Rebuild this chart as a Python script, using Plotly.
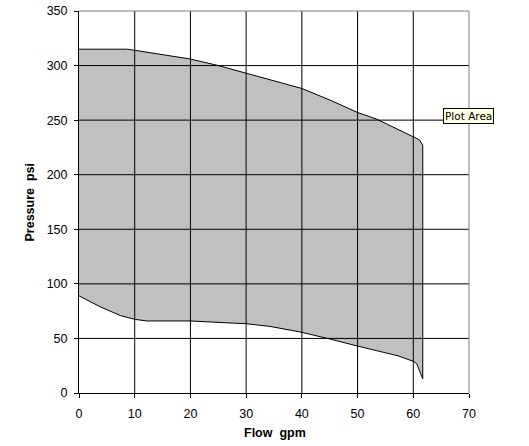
import plotly.graph_objects as go

# Upper boundary of the operating envelope (flow gpm, pressure psi)
flow_upper = [0, 8.7, 10, 20, 25, 30, 34.3, 40, 45, 50, 53.4, 60, 61.1, 61.7]
press_upper = [315, 315, 314, 306, 300, 293, 287, 279, 268.5, 257, 251, 235, 232, 227]

# Lower boundary
flow_lower = [0, 3.8, 7.4, 10, 12.2, 20, 23, 27.7, 30, 34.3, 40, 45, 50, 53.4, 57.3, 60, 60.6, 61.7]
press_lower = [89, 79, 71, 67.5, 66, 66, 65, 64, 63.5, 61, 55.6, 49.5, 43, 38.5, 34, 29, 27, 13]

x_ticks = [0, 10, 20, 30, 40, 50, 60, 70]
y_ticks = [0, 50, 100, 150, 200, 250, 300, 350]

FONT = 'Liberation Sans, Arial, sans-serif'

# closed polygon: upper left->right, lower right->left
poly_x = flow_upper + flow_lower[::-1]
poly_y = press_upper + press_lower[::-1]

fig = go.Figure()
fig.add_trace(go.Scatter(
    x=poly_x, y=poly_y,
    mode='lines', fill='toself',
    fillcolor='#C0C0C0',
    line=dict(color='black', width=1),
    hoverinfo='skip', showlegend=False,
))

axis_common = dict(
    showgrid=False, automargin=False,
    showline=True, linecolor='black', linewidth=1,
    ticks='outside', ticklen=4, tickcolor='black',
    zeroline=False, layer='above traces',
    tickfont=dict(family=FONT, size=12.5, color='black'),
)

fig.update_layout(
    width=529, height=446,
    margin=dict(l=79, r=60, t=11, b=53),
    paper_bgcolor='white', plot_bgcolor='white',
    xaxis=dict(range=[0, 70], tickvals=x_ticks, ticklabelstandoff=5, **axis_common),
    yaxis=dict(range=[0, 350], tickvals=y_ticks, ticklabelstandoff=4, **axis_common),
    showlegend=False,
)

# gridlines drawn on top of the filled area (as in the original)
for xv in x_ticks[1:-1]:
    fig.add_shape(type='line', xref='x', yref='paper', x0=xv, x1=xv, y0=0, y1=1,
                  line=dict(color='black', width=1), layer='above')
for yv in y_ticks[1:-1]:
    fig.add_shape(type='line', xref='paper', yref='y', x0=0, x1=1, y0=yv, y1=yv,
                  line=dict(color='black', width=1), layer='above')

# gray top / right border of the plot area
fig.add_shape(type='line', xref='paper', yref='paper', x0=0, x1=1, y0=1, y1=1,
              line=dict(color='#808080', width=1), layer='above')
fig.add_shape(type='line', xref='paper', yref='paper', x0=1, x1=1, y0=0, y1=1,
              line=dict(color='#808080', width=1), layer='above')

fig.add_annotation(text='<b>Flow  gpm</b>', xref='paper', yref='paper',
                   x=(274.5 - 79) / 390, y=-(433 - 393) / 382, yanchor='middle',
                   showarrow=False, font=dict(family=FONT, size=12.5, color='black'))
fig.add_annotation(text='<b>Pressure  psi</b>', xref='paper', yref='paper',
                   x=-(79 - 29) / 390, y=(393 - 202.5) / 382, textangle=-90,
                   xanchor='center', yanchor='middle',
                   showarrow=False, font=dict(family=FONT, size=12.5, color='black'))

# tooltip-style label at the right of the plot area
fig.add_annotation(text='Plot Area', xref='x', yref='y',
                   x=65.3, y=254, xanchor='left', yanchor='middle',
                   showarrow=False, bgcolor='#FFFFE1', bordercolor='black',
                   borderwidth=1, borderpad=1,
                   font=dict(family='DejaVu Sans, Liberation Sans', size=10.5, color='black'))

fig.write_html("out.html", config={'displayModeBar': False},
               post_script="document.body.style.margin='0';")
